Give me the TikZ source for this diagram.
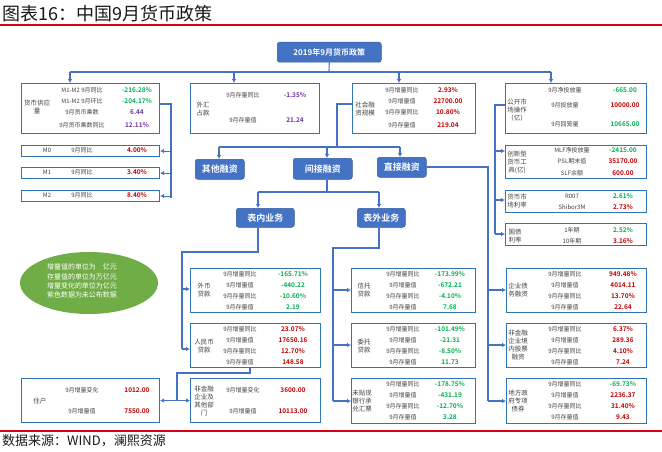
\documentclass[tikz,border=0pt]{standalone}
\usepackage{fontspec}
\setmainfont{Noto Sans CJK SC}[BoldFont={Noto Sans CJK SC Bold}]
\usetikzlibrary{arrows.meta,shapes.geometric}
\definecolor{boxblue}{HTML}{2E75B6}
\definecolor{lineblue}{HTML}{4472C4}
\definecolor{btnblue}{HTML}{4472C4}
\definecolor{vgreen}{HTML}{00B050}
\definecolor{vred}{HTML}{C00000}
\definecolor{vpurple}{HTML}{7030A0}
\definecolor{ellg}{HTML}{70AD47}
\definecolor{titred}{HTML}{D9001B}
\definecolor{labc}{HTML}{404040}
\newcounter{tn}
\newcommand\txi[4]{\node[#2] (#1) at (#3) {#4};}
\newcommand\tx[3]{\stepcounter{tn}\edef\tnn{t\arabic{tn}}\expandafter\txi\expandafter{\tnn}{#1}{#2}{#3}}
\newcommand\bx[5]{\node[bxs, minimum width={(#4-#2)*1pt}, minimum height={(#5-#3)*1pt}] (#1) at (#2,#3) {};}
\newcommand\bt[6]{\node[btn, minimum width={(#4-#2)*1pt}, minimum height={(#5-#3)*1pt}] (#1) at (#2,#3) {#6};}
\newcommand\rl[3]{\tx{lab}{#1,#2}{#3}}
\newcommand\rv[4]{\tx{val,text=#3}{#1,#2}{#4}}
\newcommand\fr[8]{\rl{#1}{#3}{9月增量同比}\rv{#2}{#3}{#4}{#5}%
 \rl{#1}{#3+11}{9月增量值}\rv{#2}{#3+11}{#4}{#6}%
 \rl{#1}{#3+22}{9月存量同比}\rv{#2}{#3+22}{#4}{#7}%
 \rl{#1}{#3+33}{9月存量值}\rv{#2}{#3+33}{#4}{#8}}
\begin{document}
\begin{tikzpicture}[x=1pt,y=-1pt,
 bxs/.style={draw=boxblue, line width=1.1pt, inner sep=0pt, anchor=north west},
 btn/.style={fill=btnblue, draw=btnblue!80!black, line width=0.5pt, rounded corners=2.5pt, text=white, font=\bfseries\fontsize{9}{10}\selectfont, inner sep=0pt, anchor=north west},
 conn/.style={draw=lineblue, line width=1.1pt},
 arr/.style={conn, -{Latex[length=4pt,width=4.5pt]}},
 darr/.style={conn, {Latex[length=4pt,width=4.5pt]}-{Latex[length=4pt,width=4.5pt]}},
 lab/.style={font=\fontsize{6}{7}\selectfont, text=labc, align=center, inner sep=0pt},
 blab/.style={font=\fontsize{6.5}{8}\selectfont, text=labc, align=center, inner sep=0pt},
 val/.style={font=\bfseries\fontsize{6.5}{7}\selectfont, inner sep=0pt},
 redl/.style={draw=titred, line width=2pt}]
\useasboundingbox (0,0) rectangle (662,452);
% title and footer
\node[anchor=west, font=\fontsize{18}{20}\selectfont, inner sep=0pt, text=black!90] (title) at (2,14) {图表16：中国9月货币政策};
\draw[redl] (0,25) -- (662,25);
\draw[redl] (0,431) -- (662,431);
\node[anchor=west, font=\fontsize{13}{14}\selectfont, inner sep=0pt, text=black!90] (foot) at (2,441) {数据来源：WIND，澜熙资源};
% root
\bt{root}{277}{42}{381}{62}{\fontsize{8}{9}\selectfont 2019年9月货币政策}
% boxes
\bx{ms}{21}{83}{159}{133}
\bx{mz}{21}{145}{159}{156}
\bx{mo}{21}{167}{159}{178}
\bx{mt}{21}{190}{159}{201}
\bx{wh}{190}{83}{319}{133}
\bx{sf}{352}{83}{475}{133}
\bx{om}{505}{83}{646}{133}
\bx{cx}{505}{145}{646}{178}
\bx{mr}{505}{190}{646}{212}
\bx{gz}{505}{223}{646}{245}
\bx{wb}{190}{268}{320}{312}
\bx{rmb}{190}{323}{320}{367}
\bx{zh}{21}{378}{159}{422}
\bx{fjr}{190}{378}{320}{422}
\bx{xt}{351}{268}{475}{312}
\bx{wt}{351}{323}{475}{367}
\bx{wtx}{351}{378}{475}{423}
\bx{qz}{506}{268}{646}{312}
\bx{gp}{506}{323}{646}{367}
\bx{df}{506}{378}{646}{423}
% buttons
\bt{qt}{195}{159}{244}{179}{其他融资}
\bt{jj}{293}{158}{352}{179}{间接融资}
\bt{zj}{377}{157}{426}{177}{直接融资}
\bt{bn}{236}{208}{294}{227}{表内业务}
\bt{bw}{357}{208}{405}{227}{表外业务}
% note ellipse
\node[ellipse, fill=ellg, minimum width=138pt, minimum height=62pt, inner sep=0pt] (note) at (89,283) {};
\node[font=\fontsize{7}{9.2}\selectfont, text=white, align=center, inner sep=0pt] (notet) at (82,281) {增量值的单位为　亿元\\存量值的单位为万亿元\\增量变化的单位为亿元\\紫色数据为未公布数据};
% connectors: top level
\coordinate (hub) at (329,72);
\coordinate (h1) at (70,72);
\coordinate (h2) at (234,72);
\coordinate (h3) at (399,72);
\coordinate (h4) at (551,72);
\draw[conn] (root.south) -- (hub);
\draw[conn] (h1) -- (h4);
\draw[arr] (h1) -- (h1 |- ms.north);
\draw[arr] (h2) -- (h2 |- wh.north);
\draw[arr] (h3) -- (h3 |- sf.north);
\draw[arr] (h4) -- (h4 |- om.north);
% money supply -> M0 M1 M2
\coordinate (msa) at (159,104);
\coordinate (msb) at (171,104);
\draw[conn] (msa) -- (msb) -- (171,198);
\draw[arr] (msb |- mz.east) -- (mz.east);
\draw[arr] (msb |- mo.east) -- (mo.east);
\draw[arr] (msb |- mt.east) -- (mt.east);
% social financing -> branches
\coordinate (sfa) at (352,104);
\coordinate (sfb) at (337,104);
\coordinate (sfc) at (337,147);
\coordinate (g1) at (219,147);
\coordinate (g2) at (327,147);
\coordinate (g3) at (400,147);
\draw[conn] (sfa) -- (sfb) -- (sfc);
\draw[conn] (g1) -- (g3);
\draw[arr] (g1) -- (g1 |- qt.north);
\draw[arr] (g2) -- (g2 |- jj.north);
\draw[arr] (g3) -- (g3 |- zj.north);
% indirect -> on/off balance
\coordinate (j1) at (327,192);
\coordinate (j2) at (258,192);
\coordinate (j3) at (379,192);
\draw[conn] (jj.south -| j1) -- (j1);
\draw[conn] (j2) -- (j3);
\draw[arr] (j2) -- (j2 |- bn.north);
\draw[arr] (j3) -- (j3 |- bw.north);
% direct -> right column
\coordinate (za) at (488,167);
\draw[conn] (zj.east |- za) -- (za) -- (488,401);
\draw[arr] (488,290) -- (488,290 -| qz.west);
\draw[arr] (488,345) -- (488,345 -| gp.west);
\draw[arr] (488,401) -- (488,401 -| df.west);
% open market -> right side column
\coordinate (oa) at (505,105);
\coordinate (ob) at (495,105);
\draw[conn] (oa) -- (ob) -- (495,234);
\draw[arr] (495,151) -- (495,151 -| cx.west);
\draw[arr] (495,200) -- (495,200 -| mr.west);
\draw[arr] (495,234) -- (495,234 -| gz.west);
% on-balance -> loans
\coordinate (ba) at (258,252);
\coordinate (bb) at (182,252);
\draw[conn] (bn.south -| ba) -- (ba) -- (bb) -- (182,349);
\draw[arr] (182,289) -- (182,289 -| wb.west);
\draw[arr] (182,349) -- (182,349 -| rmb.west);
% off-balance -> items
\coordinate (wa) at (379,248);
\coordinate (wbb) at (333,248);
\draw[conn] (bw.south -| wa) -- (wa) -- (wbb) -- (333,401);
\draw[arr] (333,290) -- (333,290 -| xt.west);
\draw[arr] (333,345) -- (333,345 -| wt.west);
\draw[arr] (333,401) -- (333,401 -| wtx.west);
% RMB loans -> households / firms
\coordinate (ra) at (250,373);
\coordinate (rb) at (177,373);
\coordinate (rc) at (177,400);
\draw[conn] (rmb.south -| ra) -- (ra) -- (rb) -- (rc);
\draw[darr] (zh.east) -- (fjr.west);
% ---- texts: money supply
\tx{blab}{37,107}{货币供应\\量}
\rl{82}{90}{M1-M2 9月同比}\rv{137}{90}{vgreen}{-216.28\%}
\rl{82}{101}{M1-M2 9月环比}\rv{137}{101}{vgreen}{-204.17\%}
\rl{82}{112}{9月货币乘数}\rv{137}{112}{vpurple}{6.44}
\rl{82}{125}{9月货币乘数同比}\rv{137}{125}{vpurple}{12.11\%}
\rl{47}{150.5}{M0}\rl{82}{150.5}{9月同比}\rv{137}{150.5}{vred}{4.00\%}
\rl{47}{172.5}{M1}\rl{82}{172.5}{9月同比}\rv{137}{172.5}{vred}{3.40\%}
\rl{47}{195.5}{M2}\rl{82}{195.5}{9月同比}\rv{137}{195.5}{vred}{8.40\%}
% FX
\tx{blab}{203,109}{外汇\\占款}
\rl{243}{95}{9月存量同比}\rv{295}{95}{vpurple}{-1.35\%}
\rl{243}{120}{9月存量值}\rv{295}{120}{vpurple}{21.24}
% social financing
\tx{blab}{365,109}{社会融\\资规模}
\rl{402}{90}{9月增量同比}\rv{448}{90}{vred}{2.93\%}
\rl{402}{101}{9月增量值}\rv{448}{101}{vred}{22700.00}
\rl{402}{112}{9月存量同比}\rv{448}{112}{vred}{10.80\%}
\rl{402}{125}{9月存量值}\rv{448}{125}{vred}{219.04}
% open market
\tx{blab}{517,110}{公开市\\场操作\\（亿）}
\rl{565}{90}{9月净投放量}\rv{625}{90}{vgreen}{-665.00}
\rl{565}{105}{9月投放量}\rv{625}{105}{vred}{10000.00}
\rl{565}{124}{9月回笼量}\rv{625}{124}{vgreen}{10665.00}
% innovative tools
\tx{blab}{517,162}{创新型\\货币工\\具(亿)}
\rl{572}{150}{MLF净投放量}\rv{623}{150}{vgreen}{-2415.00}
\rl{572}{161}{PSL期末值}\rv{623}{161}{vred}{35170.00}
\rl{572}{173}{SLF余额}\rv{623}{173}{vred}{600.00}
% money market rates
\tx{blab}{517,201}{货币市\\场利率}
\rl{572}{196}{R007}\rv{623}{196}{vgreen}{2.61\%}
\rl{572}{207}{Shibor3M}\rv{623}{207}{vred}{2.73\%}
% treasury
\tx{blab}{515,236}{国债\\利率}
\rl{572}{230}{1年期}\rv{623}{230}{vgreen}{2.52\%}
\rl{572}{241}{10年期}\rv{623}{241}{vred}{3.16\%}
% FX loans
\tx{blab}{204,290}{外币\\贷款}
\fr{240}{293}{274}{vgreen}{-165.71\%}{-440.22}{-10.60\%}{2.19}
% RMB loans
\tx{blab}{204,346}{人民币\\贷款}
\fr{240}{293}{329}{vred}{23.07\%}{17650.16}{12.70\%}{148.58}
% households
\tx{blab}{40,401}{住户}
\rl{82}{390}{9月增量变化}\rv{137}{390}{vred}{1012.00}
\rl{82}{411}{9月增量值}\rv{137}{411}{vred}{7550.00}
% firms
\tx{blab}{204,401}{非金融\\企业及\\其他部\\门}
\rl{243}{390}{9月增量变化}\rv{293}{390}{vred}{3600.00}
\rl{243}{411}{9月增量值}\rv{293}{411}{vred}{10113.00}
% trust
\tx{blab}{364,290}{信托\\贷款}
\fr{403}{450}{274}{vgreen}{-173.99\%}{-672.21}{-4.10\%}{7.68}
% entrusted
\tx{blab}{364,346}{委托\\贷款}
\fr{403}{450}{329}{vgreen}{-101.49\%}{-21.31}{-8.50\%}{11.73}
% undiscounted bills
\tx{blab}{362,401}{未贴现\\银行承\\兑汇票}
\fr{403}{450}{384}{vgreen}{-178.75\%}{-431.19}{-12.70\%}{3.28}
% corporate bonds
\tx{blab}{518,290}{企业债\\务融资}
\fr{565}{623}{274}{vred}{949.48\%}{4014.11}{13.70\%}{22.64}
% equity
\tx{blab}{518,345}{非金融\\企业境\\内股票\\融资}
\fr{565}{623}{329}{vred}{6.37\%}{289.36}{4.10\%}{7.24}
% local special bonds
\tx{blab}{518,401}{地方政\\府专项\\债券}
\rl{565}{384}{9月增量同比}\rv{623}{384}{vgreen}{-69.73\%}
\rl{565}{395}{9月增量值}\rv{623}{395}{vred}{2236.37}
\rl{565}{406}{9月存量同比}\rv{623}{406}{vred}{31.40\%}
\rl{565}{417}{9月存量值}\rv{623}{417}{vred}{9.43}
\end{tikzpicture}
\end{document}
